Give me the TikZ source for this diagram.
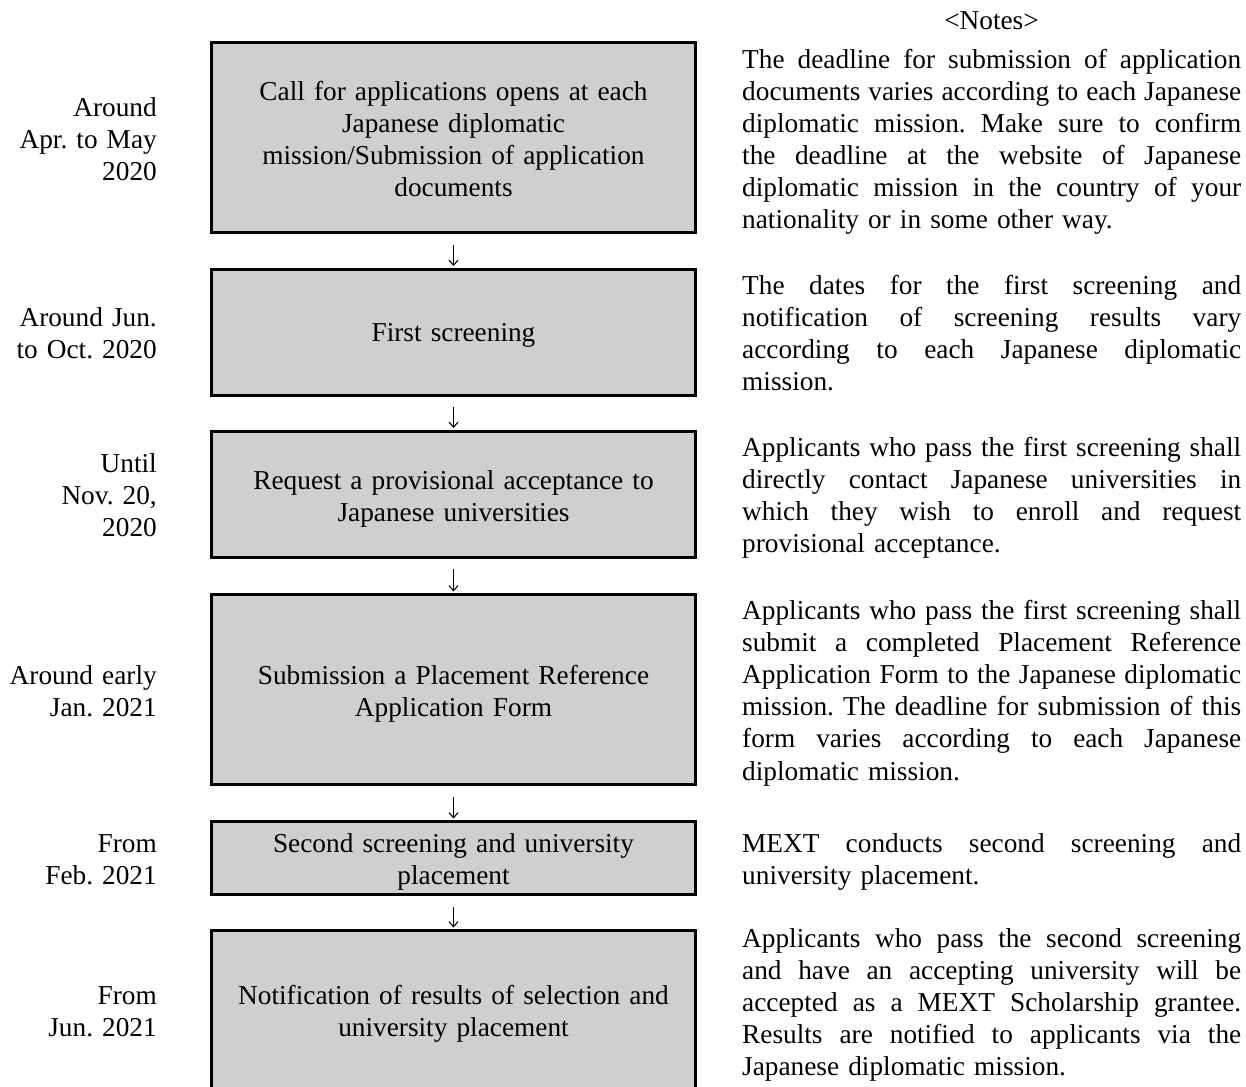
\documentclass[tikz,border=0pt]{standalone}
\usepackage{fontspec}
\setmainfont{Liberation Serif}
\usetikzlibrary{arrows.meta}
\definecolor{boxgray}{HTML}{D0CECE}
\newcommand\jline[1]{\leavevmode\hbox to 499pt{\spaceskip=0.25em plus 1fil minus 0.05em\xspaceskip=\spaceskip\relax #1}}
\newcommand\bodyfont{\fontsize{27.3}{32.1}\selectfont\frenchspacing}
\begin{document}
\begin{tikzpicture}[x=1pt,y=-1pt,
  box/.style={draw=black, line width=3pt, fill=boxgray, minimum width=484pt, inner sep=0pt},
  txt/.style={font=\bodyfont, inner sep=0pt, text width=480pt, align=center, anchor=base},
  lbl/.style={font=\bodyfont, inner sep=0pt, text width=200pt, align=right, anchor=base east},
  note/.style={font=\bodyfont, inner sep=0pt, text width=499pt, align=left, anchor=base west},
  conn/.style={line width=1.1pt, -{Straight Barb[length=5pt,width=9pt,line width=1.1pt]}}]
\useasboundingbox (0,0) rectangle (1246,1086);
\fill[white] (0,0) rectangle (1246,1086);

% boxes
\node[box, minimum height=190pt] (b1) at (453.5,137.5) {};
\node[box, minimum height=126pt] (b2) at (453.5,332) {};
\node[box, minimum height=126pt] (b3) at (453.5,494) {};
\node[box, minimum height=190pt] (b4) at (453.5,689.5) {};
\node[box, minimum height=73pt] (b5) at (453.5,858) {};
\node[box, minimum height=190pt] (b6) at (453.5,1025.5) {};

% box texts
\node[txt] (t1) at (453.5,100.5) {Call for applications opens at each\\Japanese diplomatic\\mission/Submission of application\\documents};
\node[txt] (t2) at (453.5,341.5) {First screening};
\node[txt] (t3) at (453.5,489.5) {Request a provisional acceptance to\\Japanese universities};
\node[txt] (t4) at (453.5,684.5) {Submission a Placement Reference\\Application Form};
\node[txt] (t5) at (453.5,852.5) {Second screening and university\\placement};
\node[txt] (t6) at (453.5,1004.5) {Notification of results of selection and\\university placement};

% connectors
\foreach \a/\b in {b1/b2,b2/b3,b3/b4,b4/b5,b5/b6}
  \draw[conn] ([yshift=-10.5pt]\a.south) -- ([yshift=1.5pt]\b.north);

% date labels
\node[lbl] (l1) at (157,116.5) {Around\\Apr. to May\\2020};
\node[lbl] (l2) at (157,326.5) {Around Jun.\\to Oct. 2020};
\node[lbl] (l3) at (157,472.5) {Until\\Nov. 20,\\2020};
\node[lbl] (l4) at (157,684.5) {Around early\\Jan. 2021};
\node[lbl] (l5) at (157,852.5) {From\\Feb. 2021};
\node[lbl] (l6) at (157,1004.5) {From\\Jun. 2021};

% notes
\node[font=\bodyfont, inner sep=0pt, anchor=base] (nh) at (991.5,29.5) {<Notes>};
\node[note] (n1) at (742,68.5) {\jline{The deadline for submission of application}\\
\jline{documents varies according to each Japanese}\\
\jline{diplomatic mission. Make sure to confirm}\\
\jline{the deadline at the website of Japanese}\\
\jline{diplomatic mission in the country of your}\\
nationality or in some other way.};
\node[note] (n2) at (742,294.5) {\jline{The dates for the first screening and}\\
\jline{notification of screening results vary}\\
\jline{according to each Japanese diplomatic}\\
mission.};
\node[note] (n3) at (742,456.5) {\jline{Applicants who pass the first screening shall}\\
\jline{directly contact Japanese universities in}\\
\jline{which they wish to enroll and request}\\
provisional acceptance.};
\node[note] (n4) at (742,619.5) {\jline{Applicants who pass the first screening shall}\\
\jline{submit a completed Placement Reference}\\
\jline{Application Form to the Japanese diplomatic}\\
\jline{mission. The deadline for submission of this}\\
\jline{form varies according to each Japanese}\\
diplomatic mission.};
\node[note] (n5) at (742,852.5) {\jline{MEXT conducts second screening and}\\
university placement.};
\node[note] (n6) at (742,947.5) {\jline{Applicants who pass the second screening}\\
\jline{and have an accepting university will be}\\
\jline{accepted as a MEXT Scholarship grantee.}\\
\jline{Results are notified to applicants via the}\\
Japanese diplomatic mission.};
\end{tikzpicture}
\end{document}
